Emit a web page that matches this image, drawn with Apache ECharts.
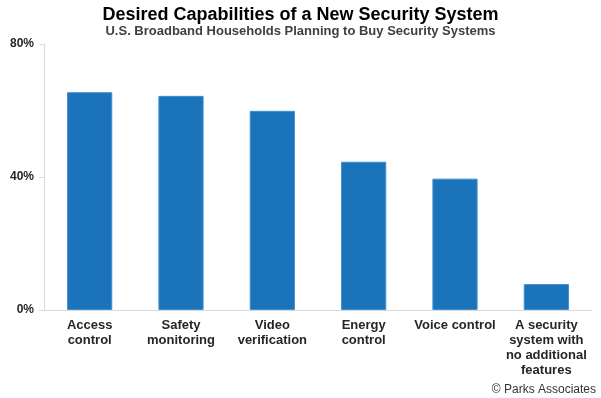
<!DOCTYPE html>
<html>
<head>
<meta charset="utf-8">
<script src="https://cdn.jsdelivr.net/npm/echarts@6/dist/echarts.min.js"></script>
<style>
html,body{margin:0;padding:0;background:#fff;}
#c{width:601px;height:398px;}
</style>
</head>
<body>
<div id="c"></div>
<script>
const categories = ["Access\ncontrol", "Safety\nmonitoring", "Video\nverification", "Energy\ncontrol", "Voice control", "A security\nsystem with\nno additional\nfeatures"];
const values = [65.5, 64.4, 59.9, 44.6, 39.5, 7.8];
const yTicks = [0, 40, 80];

const chart = echarts.init(document.getElementById('c'), null, {renderer: 'canvas'});
chart.setOption({
  animation: false,
  textStyle: {fontFamily: '"Liberation Sans", Arial, sans-serif'},
  title: {
    text: 'Desired Capabilities of a New Security System',
    subtext: 'U.S. Broadband Households Planning to Buy Security Systems',
    left: 'center',
    top: 1,
    itemGap: 1,
    textStyle: {fontSize: 18, fontWeight: 'bold', color: '#000', fontFamily: '"Liberation Sans", Arial, sans-serif'},
    subtextStyle: {fontSize: 13, fontWeight: 'bold', color: '#404040', fontFamily: '"Liberation Sans", Arial, sans-serif'}
  },
  graphic: [{
    type: 'text',
    right: 5,
    top: 384,
    style: {text: '© Parks Associates', fontSize: 12, fill: '#333', fontFamily: '"Liberation Sans", Arial, sans-serif'}
  }],
  grid: {left: 44, right: 9, top: 44, bottom: 88, containLabel: false},
  xAxis: {
    type: 'category',
    data: categories,
    axisTick: {show: false},
    axisLine: {lineStyle: {color: '#d9d9d9', width: 1}},
    axisLabel: {interval: 0, fontSize: 13, fontWeight: 'bold', color: '#262626', lineHeight: 15, margin: 8}
  },
  yAxis: {
    type: 'value',
    min: yTicks[0],
    max: yTicks[yTicks.length - 1],
    interval: yTicks[1] - yTicks[0],
    axisLine: {show: true, lineStyle: {color: '#d9d9d9', width: 1}},
    axisTick: {show: true, length: 5, lineStyle: {color: '#d9d9d9'}},
    splitLine: {show: false},
    axisLabel: {formatter: '{value}%', fontSize: 12, fontWeight: 'bold', color: '#262626', margin: 10}
  },
  series: [{
    type: 'bar',
    data: values,
    barWidth: '49.5%',
    itemStyle: {color: '#1b73b9', borderColor: '#3f8fd2', borderWidth: 1}
  }]
});
</script>
</body>
</html>
